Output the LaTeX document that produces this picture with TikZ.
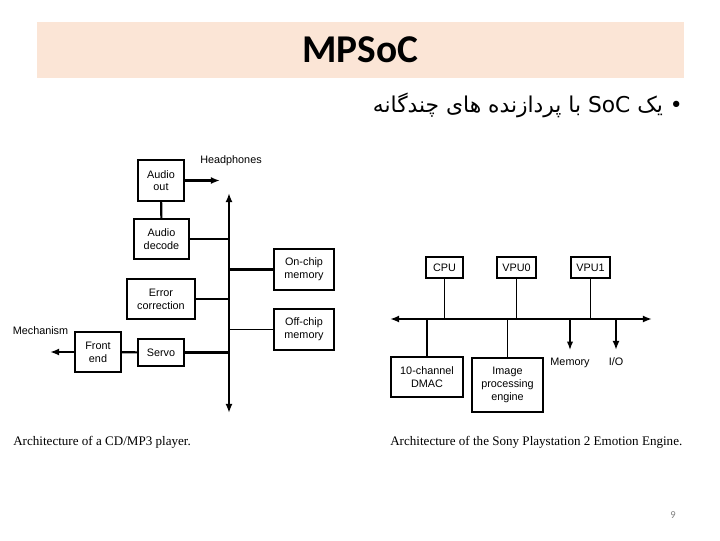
\documentclass[tikz,border=0pt]{standalone}
\usepackage{fontspec}
\setmainfont{Liberation Serif}
\setsansfont{Liberation Sans}
\newfontfamily\titlefont{Carlito}
\newfontfamily\farsifont[Script=Arabic]{DejaVu Sans}
\TeXXeTstate=1
\usepackage{xcolor}
\usepackage{tikz}
\usetikzlibrary{arrows.meta, positioning, calc}
\definecolor{bandpeach}{HTML}{FBE5D6}

\begin{document}
\begin{tikzpicture}[x=0.025cm, y=-0.025cm,
  unit/.style={rectangle, draw, line width=1.3pt, inner sep=0pt, align=center,
    font=\sffamily\fontsize{7.7}{9}\selectfont},
  lbl/.style={inner sep=0pt, anchor=base, font=\sffamily\fontsize{7.7}{9}\selectfont},
  captext/.style={inner sep=0pt, anchor=west, font=\fontsize{9.3}{11}\selectfont},
  bus/.style={{Latex[length=6.5pt,width=5pt]}-{Latex[length=6.5pt,width=5pt]}, line width=1.7pt},
  arrow/.style={-{Latex[length=6.5pt,width=5pt]}, line width=1.5pt},
  thin arrow/.style={-{Latex[length=6pt,width=4.5pt]}, line width=1pt},
  thin link/.style={line width=0.9pt},
  thick link/.style={line width=1.5pt},
]
\useasboundingbox (0,0) rectangle (720,540);

\node[fill=bandpeach, minimum width=16.175cm, minimum height=1.4cm,
  font=\titlefont\bfseries\fontsize{28}{30}\selectfont] (title) at (360.5,50) {MPSoC};
\node[anchor=east, inner sep=0pt, font=\farsifont\fontsize{15.5}{17}\selectfont] (bullet) at (683,105)
  {\beginR • یک \beginL SoC\endL{} با پردازنده های چندگانه\endR};

% CD/MP3 player
\node[unit, minimum width=1.15cm, minimum height=1.025cm] (aout) at (161,180.5) {Audio\\out};
\node[unit, minimum width=1.375cm, minimum height=1cm] (adec) at (161.5,239) {Audio\\decode};
\node[unit, line width=1pt, minimum width=1.7cm, minimum height=1cm] (ecor) at (161,299) {Error\\correction};
\node[unit, minimum width=1.15cm, minimum height=1cm] (fend) at (98,352) {Front\\end};
\node[unit, minimum width=1.15cm, minimum height=0.675cm] (servo) at (161,352.5) {Servo};
\node[unit, minimum width=1.5cm, minimum height=1.025cm] (onchip) at (304,269.5) {On-chip\\memory};
\node[unit, line width=1pt, minimum width=1.5cm, minimum height=1.025cm] (offchip) at (304,329.5) {Off-chip\\memory};
\node[lbl] (hp) at (231,163) {Headphones};
\node[lbl] (mechlbl) at (40.5,334) {Mechanism};
\node[captext] (cdcap) at (13,442) {Architecture of a CD/MP3 player.};

\coordinate (bt) at (229,193);
\coordinate (bb) at (229,413);
\coordinate (hpend) at (220,180.5);
\coordinate (mech) at (50,352);

\draw[bus] (bb) -- (bt);
\draw[thick link] (aout) -- (adec);
\draw[arrow] (aout.east) -- (hpend);
\draw[thin link] (adec.east) -- (adec.east -| bt);
\draw[thick link] (onchip.west) -- (onchip.west -| bt);
\draw[thin link] (ecor.east) -- (ecor.east -| bt);
\draw[thin link] (offchip.west) -- (offchip.west -| bt);
\draw[thick link] (fend) -- (servo);
\draw[thick link] (servo.east) -- (servo.east -| bt);
\draw[arrow] (fend.west) -- (mech);

% Emotion Engine
\node[unit, minimum width=0.925cm, minimum height=0.525cm] (cpu) at (444.5,267.5) {CPU};
\node[unit, minimum width=0.975cm, minimum height=0.525cm] (vpu0) at (516.5,267.5) {VPU0};
\node[unit, minimum width=0.975cm, minimum height=0.525cm] (vpu1) at (590.5,267.5) {VPU1};
\node[unit, minimum width=1.8cm, minimum height=1cm] (dmac) at (427,377) {10-channel\\DMAC};
\node[unit, minimum width=1.775cm, minimum height=1.35cm] (ipe) at (507.5,385) {Image\\processing\\engine};
\node[lbl] (memlbl) at (570,365.5) {Memory};
\node[lbl] (iolbl) at (616,365.5) {I/O};
\node[captext] (eecap) at (390,442) {Architecture of the Sony Playstation 2 Emotion Engine.};

\coordinate (bl) at (390,319);
\coordinate (br) at (652,319);
\coordinate (memend) at (570,350);
\coordinate (ioend) at (616,350);

\draw[bus] (bl) -- (br);
\draw[thin link] (cpu.south) -- (cpu.south |- bl);
\draw[thin link] (vpu0.south) -- (vpu0.south |- bl);
\draw[thin link] (vpu1.south) -- (vpu1.south |- bl);
\draw[thick link] (dmac.north) -- (dmac.north |- bl);
\draw[thin link] (ipe.north) -- (ipe.north |- bl);
\draw[thin arrow] (memend |- bl) -- (memend);
\draw[arrow] (ioend |- bl) -- (ioend);

\node[text=gray, font=\titlefont\fontsize{7.5}{8}\selectfont] (pgno) at (673,515) {9};
\end{tikzpicture}
\end{document}
